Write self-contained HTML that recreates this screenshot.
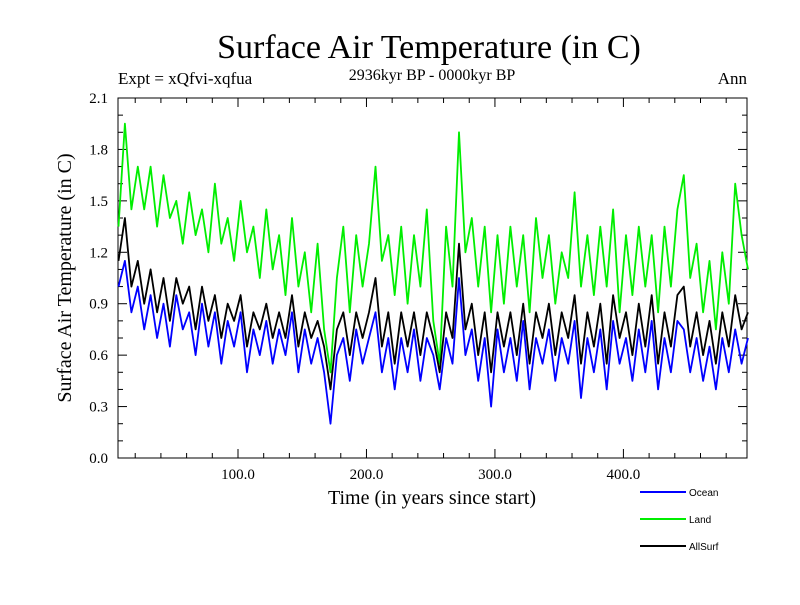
<!DOCTYPE html>
<html><head><meta charset="utf-8"><style>
body{margin:0;background:#fff;}
svg text{font-family:"Liberation Serif",serif;}
</style></head><body>
<svg id="c" width="800" height="600" xmlns="http://www.w3.org/2000/svg">
<text x="429" y="58" font-size="34" text-anchor="middle">Surface Air Temperature (in C)</text>
<text x="432" y="80" font-size="16" text-anchor="middle">2936kyr BP - 0000kyr BP</text>
<text x="118" y="84" font-size="17">Expt = xQfvi-xqfua</text>
<text x="747" y="84" font-size="17" text-anchor="end">Ann</text>
<text x="432" y="504" font-size="20" text-anchor="middle">Time (in years since start)</text>
<text transform="translate(71,278) rotate(-90)" font-size="20" text-anchor="middle">Surface Air Temperature (in C)</text>
<g id="axes"></g>
<g id="series"></g>
<g id="legend"></g>
</svg>
<script>
const yTicks=[0.0,0.3,0.6,0.9,1.2,1.5,1.8,2.1];
const xTicks=[100,200,300,400];
const seriesNames=["Ocean","Land","AllSurf"];
const seriesColors=["#0000ff","#00ee00","#000000"];
const startYear=7, stepYears=5;
const land=[1.35,1.95,1.45,1.7,1.45,1.7,1.35,1.65,1.4,1.5,1.25,1.55,1.3,1.45,1.2,1.6,1.25,1.4,1.15,1.5,1.2,1.35,1.05,1.45,1.1,1.3,0.95,1.4,1.0,1.2,0.85,1.25,0.75,0.5,1.05,1.35,0.85,1.3,1.0,1.25,1.7,1.15,1.3,0.95,1.35,0.9,1.3,1.0,1.45,0.8,0.55,1.35,1.0,1.9,1.2,1.4,1.0,1.35,0.85,1.3,0.9,1.35,1.0,1.3,0.85,1.4,1.05,1.3,0.9,1.2,1.05,1.55,1.0,1.3,0.95,1.35,1.0,1.45,0.85,1.3,0.95,1.35,1.0,1.3,0.85,1.35,1.0,1.45,1.65,1.05,1.25,0.85,1.15,0.75,1.2,0.9,1.6,1.3,1.1];
const ocean=[1.0,1.15,0.85,1.0,0.75,0.95,0.7,0.9,0.65,0.95,0.75,0.85,0.6,0.9,0.65,0.85,0.55,0.8,0.65,0.85,0.5,0.75,0.6,0.8,0.55,0.75,0.6,0.85,0.5,0.75,0.55,0.7,0.5,0.2,0.6,0.7,0.45,0.75,0.55,0.7,0.85,0.5,0.7,0.4,0.7,0.5,0.75,0.45,0.7,0.6,0.4,0.7,0.55,1.05,0.6,0.75,0.45,0.7,0.3,0.75,0.5,0.7,0.45,0.8,0.4,0.7,0.55,0.75,0.45,0.7,0.55,0.8,0.35,0.7,0.5,0.75,0.4,0.8,0.55,0.7,0.45,0.75,0.5,0.8,0.4,0.7,0.5,0.8,0.75,0.5,0.7,0.45,0.65,0.4,0.7,0.5,0.75,0.55,0.7];
const allsurf=[1.15,1.4,1.0,1.15,0.9,1.1,0.85,1.05,0.8,1.05,0.9,1.0,0.75,1.0,0.8,0.95,0.7,0.9,0.8,0.95,0.65,0.85,0.75,0.9,0.7,0.85,0.7,0.95,0.65,0.85,0.7,0.8,0.65,0.4,0.75,0.85,0.6,0.85,0.7,0.85,1.05,0.65,0.85,0.55,0.85,0.65,0.85,0.6,0.85,0.7,0.5,0.85,0.7,1.25,0.75,0.9,0.6,0.85,0.5,0.85,0.65,0.85,0.6,0.9,0.55,0.85,0.7,0.9,0.6,0.85,0.7,0.95,0.55,0.85,0.65,0.9,0.55,0.95,0.7,0.85,0.6,0.9,0.65,0.95,0.55,0.85,0.65,0.95,1.0,0.65,0.85,0.6,0.8,0.55,0.85,0.65,0.95,0.75,0.85];
const NS="http://www.w3.org/2000/svg";
const L=118,R=747,T=98,B=458;
const xMin=6.6,xMax=496.2,yMin=0,yMax=2.1;
function sx(v){return L+(v-xMin)/(xMax-xMin)*(R-L);}
function sy(v){return B-(v-yMin)/(yMax-yMin)*(B-T);}
function mk(tag,attrs,parent){const e=document.createElementNS(NS,tag);for(const k in attrs)e.setAttribute(k,attrs[k]);parent.appendChild(e);return e;}
const axes=document.getElementById('axes');
const frame=mk('rect',{x:L,y:T,width:R-L,height:B-T,fill:'none',stroke:'#000','stroke-width':1},axes);


for(let v=0;v<=2.1001;v+=0.1){
  const maj=Math.abs(v/0.3-Math.round(v/0.3))<1e-6;const len=maj?9:5;const y=sy(v);
  const t1=mk('line',{x1:L,x2:L+len,y1:y,y2:y,stroke:'#000'},axes);
  
  
  const t2=mk('line',{x1:R,x2:R-len,y1:y,y2:y,stroke:'#000'},axes);
  
  
}
yTicks.forEach(v=>{
  const t=mk('text',{x:L-10,y:sy(v)+5,'font-size':15,'text-anchor':'end'},axes);t.textContent=v.toFixed(1);
  
  
});
for(let v=20;v<xMax;v+=20){
  const maj=v%100===0;const len=maj?9:5;const x=sx(v);
  const t1=mk('line',{x1:x,x2:x,y1:B,y2:B-len,stroke:'#000'},axes);
  
  
  const t2=mk('line',{x1:x,x2:x,y1:T,y2:T+len,stroke:'#000'},axes);
  
  
}
xTicks.forEach(v=>{
  const t=mk('text',{x:sx(v),y:479,'font-size':15,'text-anchor':'middle'},axes);t.textContent=v.toFixed(1);
  
  
});
const sg=document.getElementById('series');
[[land,1],[ocean,0],[allsurf,2]].forEach(([arr,i])=>{
  const pts=arr.map((v,k)=>sx(startYear+k*stepYears).toFixed(1)+','+sy(v).toFixed(1)).join(' ');
  const p=mk('polyline',{points:pts,fill:'none',stroke:seriesColors[i],'stroke-width':1.8,'stroke-linejoin':'round'},sg);
  
  
});
const lg=document.getElementById('legend');
seriesNames.forEach((n,i)=>{
  const y=492+i*27;
  const g=mk('g',{},lg);
  
  
  mk('line',{x1:640,x2:686,y1:y,y2:y,stroke:seriesColors[i],'stroke-width':2},g);
  const t=mk('text',{x:689,y:y+4,'font-size':10,style:'font-family:"Liberation Sans",sans-serif'},g);t.textContent=n;
});
</script>
</body></html>
